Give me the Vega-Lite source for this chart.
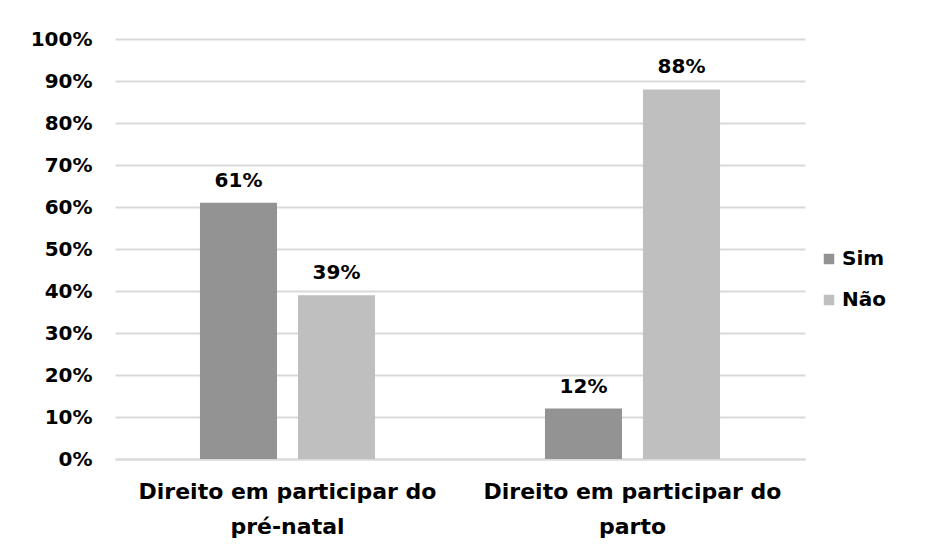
{
  "$schema": "https://vega.github.io/schema/vega-lite/v6.json",
  "width": 690,
  "height": 420,
  "autosize": {"type": "none"},
  "padding": {"left": 115, "top": 39, "right": 126, "bottom": 88},
  "background": "white",
  "config": {
    "view": {"stroke": null},
    "font": "DejaVu Sans",
    "axis": {"labelFont": "DejaVu Sans", "labelFontWeight": "bold", "labelColor": "#000000"}
  },
  "data": {
    "values": [
      {"categoria": "Direito em participar do pré-natal", "resposta": "Sim", "valor": 0.61},
      {"categoria": "Direito em participar do pré-natal", "resposta": "Não", "valor": 0.39},
      {"categoria": "Direito em participar do parto", "resposta": "Sim", "valor": 0.12},
      {"categoria": "Direito em participar do parto", "resposta": "Não", "valor": 0.88}
    ]
  },
  "encoding": {
    "x": {
      "field": "categoria",
      "type": "nominal",
      "sort": null,
      "scale": {"paddingInner": 0, "paddingOuter": 0},
      "axis": {
        "title": null,
        "labelAngle": 0,
        "ticks": false,
        "domainColor": "#d9d9d9",
        "domainWidth": 2,
        "labelFontSize": 22,
        "labelLimit": 0,
        "labelPadding": 22,
        "labelLineHeight": 35,
        "labelBaseline": "top",
        "labelExpr": "[slice(datum.label, 0, 24), slice(datum.label, 25)]"
      }
    },
    "xOffset": {
      "field": "resposta",
      "type": "nominal",
      "sort": ["Sim", "Não"],
      "scale": {"paddingInner": 0.214, "paddingOuter": 0.867}
    },
    "y": {
      "field": "valor",
      "type": "quantitative",
      "scale": {"domain": [0, 1]},
      "axis": {
        "title": null,
        "format": ".0%",
        "values": [0, 0.1, 0.2, 0.3, 0.4, 0.5, 0.6, 0.7, 0.8, 0.9, 1],
        "labelOverlap": false,
        "domain": false,
        "ticks": false,
        "gridColor": "#d9d9d9",
        "gridWidth": 2,
        "labelFontSize": 20,
        "labelPadding": 23
      }
    }
  },
  "layer": [
    {
      "mark": {"type": "bar"},
      "encoding": {
        "color": {
          "field": "resposta",
          "type": "nominal",
          "sort": ["Sim", "Não"],
          "scale": {"domain": ["Sim", "Não"], "range": ["#939393", "#bfbfbf"]},
          "legend": {
            "title": null,
            "orient": "none",
            "legendX": 704,
            "legendY": 210,
            "symbolType": "square",
            "symbolSize": 110,
            "symbolStrokeWidth": 0,
            "labelFontSize": 20,
            "labelFontWeight": "bold",
            "labelFont": "DejaVu Sans",
            "labelColor": "#000000",
            "labelOffset": 3,
            "rowPadding": 21
          }
        }
      }
    },
    {
      "mark": {"type": "text", "baseline": "bottom", "dy": -12, "fontSize": 20, "fontWeight": "bold", "color": "#000000", "font": "DejaVu Sans"},
      "encoding": {
        "text": {"field": "valor", "type": "quantitative", "format": ".0%"}
      }
    }
  ]
}
